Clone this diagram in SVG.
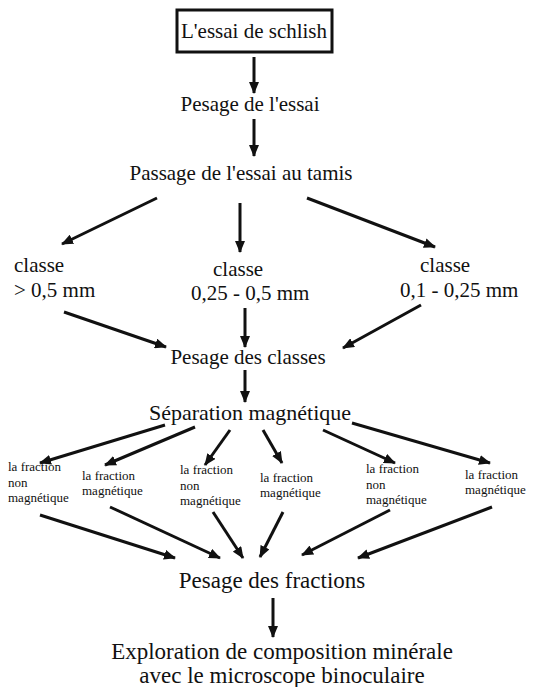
<svg xmlns="http://www.w3.org/2000/svg" width="554" height="687" viewBox="0 0 554 687">
<defs>
<marker id="ah" viewBox="0 0 12 10" refX="11" refY="5" markerWidth="12" markerHeight="10" markerUnits="userSpaceOnUse" orient="auto">
<path d="M0,0 L12,5 L0,10 z" fill="#111"/>
</marker>
<style>
text{font-family:"Liberation Serif","Times New Roman",serif;fill:#111}
.t{font-size:21px}
.c{text-anchor:middle}
.b{font-size:23px}
.s{font-size:13px}
.ln{stroke:#111;stroke-width:3;fill:none;marker-end:url(#ah)}
</style>
</defs>
<rect width="554" height="687" fill="#fff"/>
<g id="n-essai"><rect x="177" y="10" width="155" height="42" fill="none" stroke="#111" stroke-width="3"/><text class="t c" x="254" y="38">L'essai de schlish</text></g>
<g id="n-pesage"><text class="t c" x="250" y="111">Pesage de l'essai</text></g>
<g id="n-passage"><text class="t c" x="241" y="180">Passage de l'essai au tamis</text></g>
<g id="n-c1"><text class="t" x="14" y="272">classe</text><text class="t" x="14" y="297">&gt; 0,5 mm</text></g>
<g id="n-c2"><text class="t" x="213" y="276">classe</text><text class="t" x="191" y="300">0,25 - 0,5 mm</text></g>
<g id="n-c3"><text class="t" x="420" y="272">classe</text><text class="t" x="400" y="297">0,1 - 0,25 mm</text></g>
<g id="n-pclasses"><text class="t c" x="248" y="364">Pesage des classes</text></g>
<g id="n-sep"><text class="t c" x="250" y="420" style="font-size:22px">Séparation magnétique</text></g>
<g id="n-f1"><text class="s" x="8" y="471">la fraction</text><text class="s" x="8" y="487">non</text><text class="s" x="8" y="502">magnétique</text></g>
<g id="n-f2"><text class="s" x="82" y="480">la fraction</text><text class="s" x="82" y="495">magnétique</text></g>
<g id="n-f3"><text class="s" x="180" y="474">la fraction</text><text class="s" x="180" y="490">non</text><text class="s" x="180" y="505">magnétique</text></g>
<g id="n-f4"><text class="s" x="260" y="482">la fraction</text><text class="s" x="260" y="497">magnétique</text></g>
<g id="n-f5"><text class="s" x="366" y="473">la fraction</text><text class="s" x="366" y="489">non</text><text class="s" x="366" y="504">magnétique</text></g>
<g id="n-f6"><text class="s" x="465" y="479">la fraction</text><text class="s" x="465" y="494">magnétique</text></g>
<g id="n-pfractions"><text class="b c" x="272" y="588">Pesage des fractions</text></g>
<g id="n-explo"><text class="b c" x="282" y="659">Exploration de composition minérale</text><text class="b c" x="282" y="683">avec le microscope binoculaire</text></g>
<g id="connectors">
<line class="ln" x1="254" y1="57" x2="254" y2="93"/>
<line class="ln" x1="254" y1="119" x2="254" y2="156"/>
<line class="ln" x1="157" y1="198" x2="62" y2="244"/>
<line class="ln" x1="240" y1="203" x2="240" y2="252"/>
<line class="ln" x1="307" y1="198" x2="435" y2="247"/>
<line class="ln" x1="64" y1="312" x2="166" y2="347"/>
<line class="ln" x1="245" y1="308" x2="245" y2="347"/>
<line class="ln" x1="421" y1="305" x2="343" y2="348"/>
<line class="ln" x1="245" y1="370" x2="245" y2="402"/>
<line class="ln" x1="165" y1="425" x2="40" y2="463"/>
<line class="ln" x1="195" y1="427" x2="105" y2="465"/>
<line class="ln" x1="230" y1="430" x2="205" y2="465"/>
<line class="ln" x1="263" y1="430" x2="282" y2="463"/>
<line class="ln" x1="323" y1="430" x2="395" y2="463"/>
<line class="ln" x1="352" y1="423" x2="490" y2="463"/>
<line class="ln" x1="40" y1="515" x2="175" y2="558"/>
<line class="ln" x1="110" y1="507" x2="220" y2="558"/>
<line class="ln" x1="213" y1="512" x2="243" y2="558"/>
<line class="ln" x1="283" y1="512" x2="260" y2="557"/>
<line class="ln" x1="390" y1="510" x2="302" y2="555"/>
<line class="ln" x1="492" y1="507" x2="358" y2="558"/>
<line class="ln" x1="273" y1="598" x2="273" y2="637"/>
</g>
</svg>
